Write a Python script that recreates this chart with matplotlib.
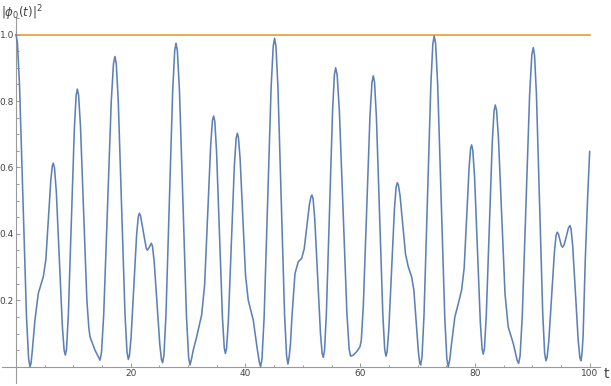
import matplotlib
matplotlib.use('Agg')
import matplotlib.pyplot as plt
from matplotlib.ticker import MultipleLocator, FixedLocator

# (t, |phi_0(t)|^2)
samples = [
    (0.0, 1.0), (0.24, 0.976), (0.61, 0.85), (1.22, 0.5), (1.83, 0.15), (2.2, 0.024), (2.44, 0.0),
    (2.62, 0.01), (2.85, 0.05), (3.3, 0.14), (3.89, 0.221), (4.76, 0.271),
    (5.2, 0.322), (5.63, 0.442), (6.07, 0.562), (6.33, 0.605), (6.5, 0.613),
    (6.71, 0.599), (7.03, 0.526), (7.55, 0.324), (8.08, 0.122), (8.39, 0.049), (8.6, 0.035),
    (8.81, 0.054), (9.12, 0.155), (9.65, 0.436), (10.17, 0.716), (10.48, 0.817), (10.69, 0.836),
    (10.91, 0.818), (11.24, 0.724), (11.8, 0.463), (12.35, 0.202), (12.68, 0.12), (12.9, 0.09),
    (13.77, 0.05), (14.64, 0.02),
    (14.9, 0.042), (15.29, 0.157), (15.95, 0.477), (16.6, 0.797), (16.99, 0.912), (17.25, 0.934),
    (17.48, 0.912), (17.83, 0.797), (18.42, 0.478), (19.0, 0.159), (19.35, 0.044), (19.58, 0.022),
    (19.77, 0.033), (20.06, 0.088), (20.54, 0.242), (21.02, 0.396), (21.31, 0.451), (21.5, 0.462),
    (21.7, 0.455), (22.2, 0.406), (22.7, 0.357), (22.9, 0.351), (23.25, 0.36), (23.59, 0.372),
    (23.79, 0.363), (24.08, 0.318), (24.58, 0.192), (25.07, 0.066), (25.36, 0.021), (25.56, 0.012),
    (25.79, 0.035), (26.14, 0.156), (26.73, 0.493), (27.31, 0.83), (27.66, 0.951), (27.89, 0.974),
    (28.13, 0.951), (28.5, 0.829), (29.11, 0.49), (29.72, 0.15), (30.09, 0.028), (30.33, 0.005),
    (30.55, 0.02), (30.9, 0.05), (31.49, 0.09), (32.36, 0.156),
    (32.88, 0.246), (33.41, 0.456), (33.93, 0.665), (34.24, 0.741), (34.45, 0.755),
    (34.66, 0.738), (34.96, 0.648), (35.48, 0.398), (35.99, 0.147), (36.3, 0.057), (36.5, 0.04),
    (36.71, 0.056), (37.02, 0.139), (37.54, 0.372), (38.06, 0.604), (38.37, 0.687), (38.58, 0.703),
    (38.77, 0.691), (39.06, 0.628), (39.54, 0.452), (40.01, 0.275), (40.49, 0.2), (41.36, 0.14),
    (42.0, 0.06), (42.4, 0.015), (42.64, 0.0),
    (42.88, 0.024), (43.25, 0.148), (43.86, 0.495), (44.47, 0.841), (44.84, 0.965), (45.08, 0.989),
    (45.31, 0.965), (45.66, 0.842), (46.24, 0.499), (46.82, 0.155), (47.17, 0.032), (47.4, 0.008),
    (47.62, 0.03), (47.85, 0.07), (48.1, 0.15), (48.63, 0.28), (49.2, 0.316), (49.79, 0.326),
    (50.24, 0.355), (50.69, 0.422), (51.14, 0.488), (51.41, 0.511), (51.59, 0.517),
    (51.79, 0.505), (52.08, 0.444), (52.58, 0.273), (53.07, 0.101), (53.36, 0.04), (53.56, 0.028),
    (53.78, 0.049), (54.1, 0.159), (54.64, 0.464), (55.18, 0.769), (55.5, 0.879), (55.72, 0.9),
    (55.98, 0.879), (56.37, 0.77), (57.03, 0.466), (57.68, 0.162), (58.07, 0.053), (58.33, 0.032),
    (58.8, 0.035), (59.37, 0.045), (59.96, 0.06), (60.19, 0.08),
    (60.54, 0.182), (61.12, 0.468), (61.7, 0.754), (62.05, 0.856), (62.28, 0.876),
    (62.5, 0.856), (62.83, 0.749), (63.39, 0.454), (63.94, 0.159), (64.27, 0.052), (64.49, 0.032),
    (64.69, 0.045), (64.98, 0.11), (65.48, 0.293), (65.97, 0.476), (66.26, 0.541), (66.46, 0.554),
    (66.65, 0.548), (66.94, 0.516), (67.42, 0.428), (67.9, 0.339), (68.38, 0.301), (68.96, 0.271),
    (69.35, 0.231), (69.75, 0.138), (70.14, 0.045), (70.37, 0.012), (70.53, 0.005),
    (70.77, 0.029), (71.12, 0.154), (71.72, 0.5), (72.31, 0.847), (72.66, 0.972), (72.9, 0.996),
    (73.15, 0.972), (73.51, 0.847), (74.13, 0.498), (74.74, 0.149), (75.1, 0.024), (75.35, 0.0),
    (75.6, 0.02), (75.93, 0.07), (76.5, 0.15), (77.1, 0.19), (77.68, 0.231),
    (78.12, 0.297), (78.55, 0.45), (78.99, 0.602), (79.25, 0.658), (79.42, 0.668),
    (79.62, 0.653), (79.93, 0.574), (80.44, 0.353), (80.94, 0.133), (81.25, 0.053), (81.45, 0.038),
    (81.66, 0.056), (81.97, 0.151), (82.5, 0.413), (83.02, 0.676), (83.33, 0.77), (83.54, 0.788),
    (83.77, 0.772), (84.1, 0.688), (84.67, 0.454), (85.24, 0.22), (85.8, 0.12), (86.68, 0.07),
    (87.35, 0.02), (87.61, 0.01),
    (87.87, 0.033), (88.25, 0.153), (88.89, 0.486), (89.53, 0.818), (89.91, 0.938), (90.17, 0.961),
    (90.39, 0.938), (90.72, 0.82), (91.27, 0.49), (91.82, 0.159), (92.15, 0.041), (92.37, 0.018),
    (92.57, 0.027), (92.87, 0.076), (93.36, 0.212), (93.86, 0.347), (94.15, 0.396), (94.35, 0.405),
    (94.55, 0.4), (94.8, 0.383), (95.05, 0.365), (95.28, 0.36), (95.55, 0.367), (95.9, 0.39),
    (96.3, 0.418), (96.56, 0.425),
    (96.75, 0.415), (97.04, 0.364), (97.52, 0.222), (98.0, 0.079), (98.29, 0.028), (98.48, 0.018),
    (98.66, 0.04), (98.85, 0.09), (99.23, 0.32), (99.62, 0.5), (100.0, 0.648),
]
t_pts = [s[0] for s in samples]
p_pts = [s[1] for s in samples]

ref_level = 1.0
x_ticks = [20, 40, 60, 80, 100]
y_ticks = [0.2, 0.4, 0.6, 0.8, 1.0]

blue = '#5E81B5'
orange = '#E19C24'
axis_gray = '#9a9a9a'
text_gray = '#444444'

fig = plt.figure(figsize=(6.11, 3.86), dpi=100)
ax = fig.add_axes([2/611, 3/386, 598/611, 366/386])
ax.set_xlim(-2.44, 101.8)
ax.set_ylim(-0.049, 1.053)

ax.plot(t_pts, p_pts, color=blue, lw=1.15, solid_joinstyle='round', zorder=3)
ax.plot([0, 100], [ref_level, ref_level], color=orange, lw=1.15, zorder=2)

for s in ['top', 'right']:
    ax.spines[s].set_visible(False)
ax.spines['left'].set_position(('data', 0))
ax.spines['bottom'].set_position(('data', 0))
for s in ['left', 'bottom']:
    ax.spines[s].set_color(axis_gray)
    ax.spines[s].set_linewidth(0.8)

ax.xaxis.set_major_locator(FixedLocator(x_ticks))
ax.xaxis.set_minor_locator(MultipleLocator(5))
ax.yaxis.set_major_locator(FixedLocator(y_ticks))
ax.yaxis.set_minor_locator(MultipleLocator(0.05))
ax.set_xticklabels([str(v) for v in x_ticks])
ax.set_yticklabels(['%.1f' % v for v in y_ticks])
ax.tick_params(which='both', direction='in', color=axis_gray, width=0.7,
               labelcolor=text_gray, labelsize=6.5, pad=1.5)
ax.tick_params(which='major', length=3.2)
ax.tick_params(which='minor', length=1.8)
ax.set_facecolor('none')

fig.text(604/611, 1 - 374/386, 't', fontsize=10, color=text_gray,
         ha='left', va='center')
fig.text(1/611, 1 - 13/386, r'$|\phi_0(t)|^2$', fontsize=8.5,
         color=text_gray, ha='left', va='center')

fig.savefig('out.png', dpi=100)
